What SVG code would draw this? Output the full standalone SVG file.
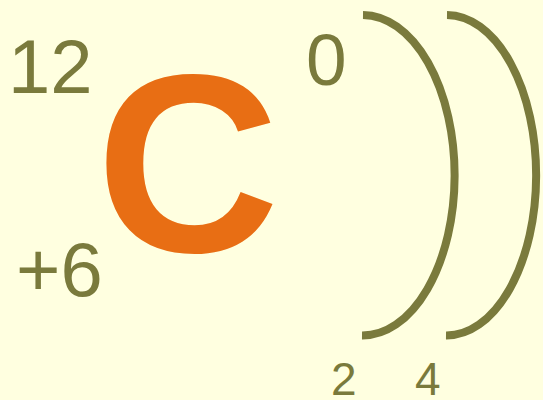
<svg xmlns="http://www.w3.org/2000/svg" width="543" height="400" viewBox="0 0 543 400">
<style>
.lbl{font-family:"Liberation Sans",Arial,sans-serif;fill:#7a7a3c}
.sym{font-family:"Liberation Sans",Arial,sans-serif;font-weight:bold;fill:#e86e14}
.shell{fill:none;stroke:#7a7a3c;stroke-width:8}
</style>
<rect width="543" height="400" fill="#ffffe0"/>
<g id="mass"><text class="lbl" x="8" y="93" font-size="76">12</text></g>
<g id="charge"><text class="lbl" x="16" y="296" font-size="76">+6</text></g>
<g id="symbol"><text class="sym" x="96" y="252" font-size="254">C</text></g>
<g id="oxidation"><text class="lbl" x="306" y="85" font-size="73">0</text></g>
<g id="connectors">
<path class="shell" d="M363,15 A92,160 0 0 1 362,335.5"/>
<path class="shell" d="M447,15 A89.5,160 0 0 1 446,335.5"/>
</g>
<g id="shell1"><text class="lbl" x="331" y="395" font-size="46">2</text></g>
<g id="shell2"><text class="lbl" x="415" y="395" font-size="46">4</text></g>
</svg>
